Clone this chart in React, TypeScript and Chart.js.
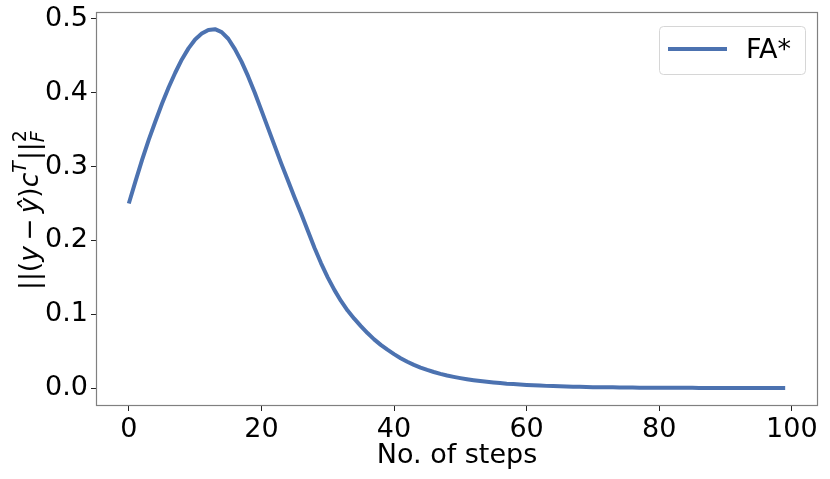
import React, { useEffect, useRef } from "react";
import { Chart, registerables } from "chart.js";

Chart.register(...registerables);

const steps: number[] = Array.from({ length: 100 }, (_, i) => i);
const faValues: number[] = [
  0.25, 0.28, 0.309, 0.336, 0.361, 0.385, 0.407, 0.427, 0.445, 0.46,
  0.472, 0.48, 0.485, 0.486, 0.482, 0.473, 0.459, 0.442, 0.422, 0.4,
  0.376, 0.352, 0.328, 0.304, 0.281, 0.258, 0.236, 0.213, 0.19, 0.169,
  0.15, 0.133, 0.118, 0.105, 0.094, 0.084, 0.0745, 0.066, 0.0585, 0.052,
  0.046, 0.0405, 0.0357, 0.0315, 0.0278, 0.0246, 0.0218, 0.0193, 0.0171, 0.0152,
  0.0135, 0.012, 0.0107, 0.0095, 0.0085, 0.0076, 0.0068, 0.006, 0.0054, 0.0048,
  0.0043, 0.0038, 0.0034, 0.003, 0.0027, 0.0024, 0.0021, 0.0019, 0.0017, 0.0015,
  0.0013, 0.0012, 0.0011, 0.001, 0.0009, 0.0008, 0.0007, 0.0006, 0.0006, 0.0005,
  0.0005, 0.0004, 0.0004, 0.0003, 0.0003, 0.0003, 0.0002, 0.0002, 0.0002, 0.0002,
  0.0001, 0.0001, 0.0001, 0.0001, 0.0001, 0.0001, 0.0001, 0.0001, 0.0001, 0.0001,
];
const xTicks: number[] = [0, 20, 40, 60, 80, 100];
const yTicks: number[] = [0, 0.1, 0.2, 0.3, 0.4, 0.5];
const seriesLabel = "FA*";
const xTitle = "No. of steps";

const FONT = "'DejaVu Sans', sans-serif";
const LINE_COLOR = "#4c72b0";

const framePlugin = {
  id: "frameAndText",
  afterDraw(chart: any) {
    const { ctx, chartArea } = chart;
    const { left, right, top, bottom } = chartArea;
    ctx.save();
    // frame
    ctx.strokeStyle = "#808080";
    ctx.lineWidth = 1.2;
    ctx.strokeRect(left + 0.5, top + 0.5, right - left - 1, bottom - top - 1);

    // x title
    ctx.fillStyle = "#000";
    ctx.font = `27px ${FONT}`;
    ctx.textAlign = "center";
    ctx.textBaseline = "alphabetic";
    ctx.fillText(xTitle, (left + right) / 2, 463);

    // legend
    const lx = 659.5, ly = 26.5, lw = 146, lh = 48;
    ctx.beginPath();
    (ctx as any).roundRect(lx, ly, lw, lh, 4);
    ctx.fillStyle = "rgba(255,255,255,0.8)";
    ctx.fill();
    ctx.strokeStyle = "#d6d6d6";
    ctx.lineWidth = 1;
    ctx.stroke();
    ctx.beginPath();
    ctx.moveTo(668, 49);
    ctx.lineTo(727, 49);
    ctx.strokeStyle = LINE_COLOR;
    ctx.lineWidth = 4;
    ctx.stroke();
    ctx.fillStyle = "#000";
    ctx.font = `27px ${FONT}`;
    ctx.textAlign = "left";
    ctx.textBaseline = "middle";
    ctx.fillText(chart.data.datasets[0].label, 746, 51);

    // y title (math-like)
    const base = 26.5;
    const small = Math.round(base * 0.7);
    ctx.translate(38, 290);
    ctx.rotate(-Math.PI / 2);
    ctx.textAlign = "left";
    ctx.textBaseline = "alphabetic";
    ctx.fillStyle = "#000";
    let cx = 0;
    const put = (t: string, italic: boolean, size: number, dy: number, adv = true) => {
      ctx.font = `${italic ? "oblique " : ""}${size}px ${FONT}`;
      ctx.fillText(t, cx, dy);
      const w = ctx.measureText(t).width;
      if (adv) cx += w;
      return w;
    };
    put("||(", false, base, 0);
    put("y", true, base, 0);
    cx += base * 0.2;
    put("−", false, base, 0);
    cx += base * 0.2;
    put("ŷ", true, base, 0);
    put(")", false, base, 0);
    put("c", true, base, 0);
    put("T", true, small, -base * 0.45);
    cx += 1;
    put("||", false, base, 0);
    const startX = cx;
    put("F", true, small, base * 0.22, false);
    cx = startX;
    put("2", false, small, -base * 0.45, false);
    ctx.restore();
  },
};

export default function App() {
  const ref = useRef<HTMLCanvasElement | null>(null);
  useEffect(() => {
    const prevMargin = document.body.style.margin;
    document.body.style.margin = "0";
    const canvas = ref.current!;
    const chart = new Chart(canvas, {
      type: "line",
      data: {
        datasets: [
          {
            label: seriesLabel,
            data: steps.map((s, i) => ({ x: s, y: faValues[i] })),
            borderColor: LINE_COLOR,
            backgroundColor: LINE_COLOR,
            borderWidth: 4,
            pointRadius: 0,
            tension: 0,
            fill: false,
            borderCapStyle: "butt",
            borderJoinStyle: "round",
          },
        ],
      },
      options: {
        responsive: false,
        animation: false,
        devicePixelRatio: 1,
        layout: { padding: { top: 12, right: 12, left: 0, bottom: 0 } },
        plugins: {
          legend: { display: false },
          tooltip: { enabled: false },
          title: { display: false },
        },
        scales: {
          x: {
            type: "linear",
            min: -4.95,
            max: 103.95,
            afterBuildTicks: (scale: any) => {
              scale.ticks = xTicks.map((v) => ({ value: v }));
            },
            afterFit: (scale: any) => {
              scale.height = 73;
              scale.paddingLeft = 0;
              scale.paddingRight = 0;
            },
            border: { display: false },
            grid: {
              display: true,
              drawOnChartArea: false,
              drawTicks: true,
              tickLength: 5,
              tickColor: "#222",
              tickWidth: 1,
            },
            ticks: {
              color: "#000",
              font: { family: FONT, size: 27, lineHeight: 1 },
              padding: 5,
              maxRotation: 0,
              autoSkip: false,
              callback: (v: any) => String(v),
            },
          },
          y: {
            type: "linear",
            min: -0.02425,
            max: 0.50925,
            afterBuildTicks: (scale: any) => {
              scale.ticks = yTicks.map((v) => ({ value: v }));
            },
            afterFit: (scale: any) => {
              scale.width = 96;
              scale.paddingTop = 0;
              scale.paddingBottom = 0;
            },
            border: { display: false },
            grid: {
              display: true,
              drawOnChartArea: false,
              drawTicks: true,
              tickLength: 5,
              tickColor: "#222",
              tickWidth: 1,
            },
            ticks: {
              color: "#000",
              font: { family: FONT, size: 27, lineHeight: 1 },
              padding: 3,
              autoSkip: false,
              callback: (v: any) => Number(v).toFixed(1),
            },
          },
        },
      },
      plugins: [framePlugin],
    });
    return () => {
      chart.destroy();
      document.body.style.margin = prevMargin;
    };
  }, []);
  return (
    <div style={{ position: "absolute", left: 0, top: 0, width: 830, height: 479, background: "#fff" }}>
      <canvas ref={ref} width={830} height={479} style={{ width: 830, height: 479, display: "block" }} />
    </div>
  );
}
